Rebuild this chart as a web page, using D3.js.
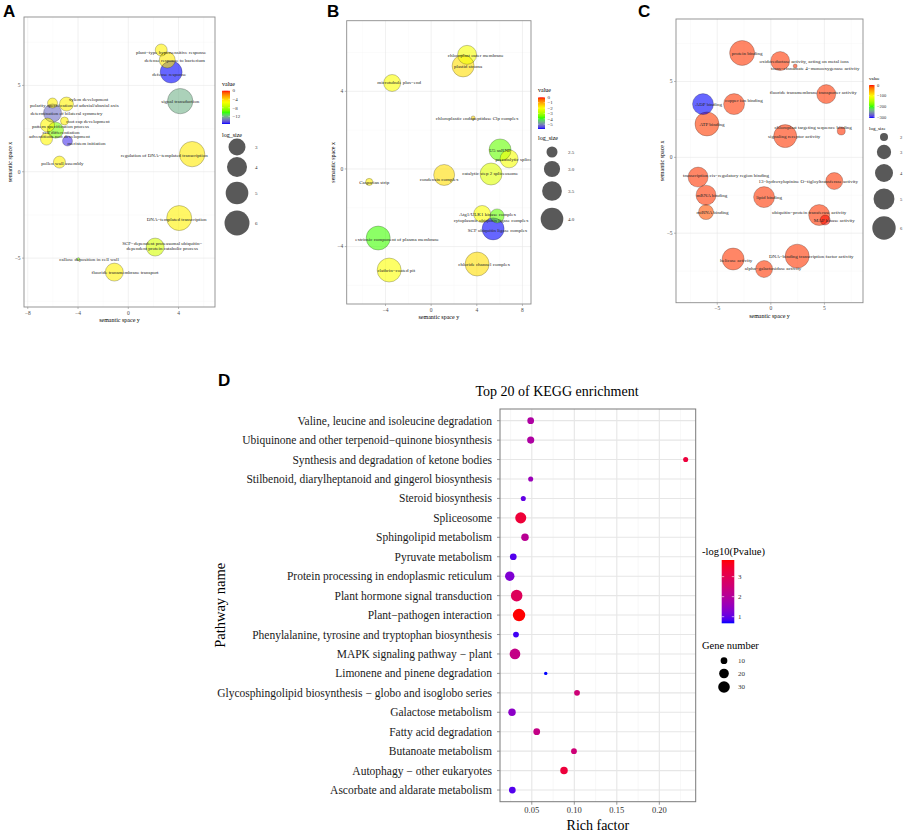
<!DOCTYPE html>
<html>
<head>
<meta charset="utf-8">
<script src="https://cdn.jsdelivr.net/npm/d3@7"></script>
<style>
  body { margin: 0; background: #fff; }
  svg { display: block; }
  text { font-family: "Liberation Serif", "Times New Roman", serif; }
  .letter { font-family: "Liberation Sans", Arial, sans-serif; font-weight: bold; }
</style>
</head>
<body>
<svg id="fig" width="906" height="831"></svg>
<script>
// ===================== DADOS =====================
// REVIGO: [term, semantic x (horizontal), semantic y (vertical), value, log_size, label x, label y]
const bpTerms = [
  ["plant−type hypersensitive response", 2.62, 7.05, -4.8, 1.80, 3.41, 6.93],
  ["defense response to bacterium", 3.10, 6.47, -4.6, 2.72, 3.69, 6.47],
  ["defense response", 3.41, 5.77, -15.6, 4.73, 3.25, 5.66],
  ["signal transduction", 4.13, 4.09, -12.2, 6.21, 4.13, 4.09],
  ["xylem development", -4.92, 3.92, -4.8, 2.22, -3.17, 4.21],
  ["polarity specification of adaxial/abaxial axis", -6.03, 3.98, -4.8, 1.46, -4.29, 3.86],
  ["determination of bilateral symmetry", -6.03, 3.40, -13.8, 3.31, -4.92, 3.40],
  ["root cap development", -5.08, 2.94, -4.8, 1.21, -3.21, 2.94],
  ["pattern specification process", -6.43, 2.70, -5.0, 2.22, -5.40, 2.65],
  ["cell differentiation", -5.79, 2.41, -9.0, 2.72, -5.36, 2.30],
  ["adventitious root development", -6.51, 1.89, -5.0, 1.80, -5.48, 2.07],
  ["meristem initiation", -4.84, 1.78, -15.0, 1.46, -3.33, 1.66],
  ["regulation of DNA−templated transcription", 5.08, 1.02, -4.6, 6.21, 2.86, 0.97],
  ["pollen wall assembly", -5.48, 0.56, -4.8, 1.80, -5.24, 0.50],
  ["DNA−templated transcription", 4.05, -2.68, -4.8, 6.03, 3.85, -2.74],
  ["SCF−dependent proteasomal ubiquitin−|dependent protein catabolic process", 2.14, -4.36, -6.6, 3.31, 2.70, -4.30],
  ["callose deposition in cell wall", -3.97, -5.06, -9.0, 0.95, -3.12, -5.06],
  ["fluoride transmembrane transport", -1.11, -5.81, -4.8, 3.31, -0.26, -5.81]
];

const ccTerms = [
  ["chloroplast outer membrane", 3.15, 5.88, -2.1, 3.39, 3.91, 5.88],
  ["plastid stroma", 2.80, 5.31, -1.6, 3.89, 3.24, 5.31],
  ["microtubule plus−end", -3.42, 4.43, -2.0, 3.10, -2.80, 4.48],
  ["chloroplastic endopeptidase Clp complex", 3.68, 2.63, -1.5, 2.25, 4.03, 2.63],
  ["U5 snRNP", 6.04, 0.98, -3.6, 3.89, 6.04, 0.98],
  ["precatalytic spliceosome", 6.83, 0.52, -2.1, 3.24, 7.79, 0.52],
  ["catalytic step 2 spliceosome", 5.25, -0.26, -2.4, 3.89, 5.17, -0.21],
  ["condensin complex", 1.14, -0.31, -1.6, 3.71, 0.70, -0.52],
  ["Casparian strip", -5.43, -0.67, -1.8, 2.30, -4.99, -0.67],
  ["Atg1/ULK1 kinase complex", 4.47, -2.32, -2.0, 3.10, 4.95, -2.32],
  ["cytoplasmic ubiquitin ligase complex", 5.78, -2.42, -3.6, 2.76, 5.25, -2.63],
  ["SCF ubiquitin ligase complex", 5.43, -3.09, -5.9, 3.89, 5.82, -3.14],
  ["extrinsic component of plasma membrane", -4.64, -3.56, -3.8, 4.27, -2.98, -3.61],
  ["clathrin−coated pit", -3.68, -5.21, -2.0, 4.27, -3.06, -5.21],
  ["chloride channel complex", 4.03, -4.90, -1.6, 4.27, 4.64, -4.90]
];

const mfTerms = [
  ["protein binding", -2.68, 6.88, -7, 6.72, -2.21, 6.88],
  ["oxidoreductase activity, acting on metal ions", 0.87, 6.35, -7, 4.32, 3.11, 6.35],
  ["trans−cinnamate 4−monooxygenase activity", 2.27, 6.02, -6, 1.82, 4.14, 5.89],
  ["fluoride transmembrane transporter activity", 5.17, 4.17, -7, 4.32, 3.95, 4.30],
  ["ADP binding", -6.33, 3.51, -310, 5.03, -5.79, 3.51],
  ["copper ion binding", -3.43, 3.51, -7, 5.03, -2.52, 3.78],
  ["ATP binding", -5.96, 2.20, -9, 6.26, -5.49, 2.20],
  ["chloroplast targeting sequence binding", 6.57, 1.74, -6, 2.00, 3.95, 2.00],
  ["signaling receptor activity", 1.34, 1.40, -7, 5.83, 2.18, 1.40],
  ["transcription cis−regulatory region binding", -6.79, -1.30, -7, 4.66, -4.18, -1.17],
  ["13−hydroxylupinine O−tigloyltransferase activity", 5.92, -1.56, -7, 3.70, 3.49, -1.56],
  ["mRNA binding", -6.05, -2.49, -7, 4.66, -5.51, -2.49],
  ["lipid binding", -0.63, -2.62, -7, 5.03, -0.16, -2.62],
  ["miRNA binding", -6.05, -3.61, -16, 3.16, -5.44, -3.61],
  ["ubiquitin−protein transferase activity", 4.51, -3.80, -7, 5.03, 3.58, -3.61],
  ["MAP kinase activity", 5.07, -4.13, -1, 2.22, 5.92, -4.13],
  ["DNA−binding transcription factor activity", 2.46, -6.51, -7, 6.26, 3.77, -6.51],
  ["helicase activity", -3.52, -6.70, -7, 5.42, -3.24, -6.77],
  ["alpha−galactosidase activity", -0.63, -7.36, -7, 3.70, 0.21, -7.30]
];

// KEGG (de cima para baixo)
const pathways = [
  "Valine, leucine and isoleucine degradation",
  "Ubiquinone and other terpenoid−quinone biosynthesis",
  "Synthesis and degradation of ketone bodies",
  "Stilbenoid, diarylheptanoid and gingerol biosynthesis",
  "Steroid biosynthesis",
  "Spliceosome",
  "Sphingolipid metabolism",
  "Pyruvate metabolism",
  "Protein processing in endoplasmic reticulum",
  "Plant hormone signal transduction",
  "Plant−pathogen interaction",
  "Phenylalanine, tyrosine and tryptophan biosynthesis",
  "MAPK signaling pathway − plant",
  "Limonene and pinene degradation",
  "Glycosphingolipid biosynthesis − globo and isoglobo series",
  "Galactose metabolism",
  "Fatty acid degradation",
  "Butanoate metabolism",
  "Autophagy − other eukaryotes",
  "Ascorbate and aldarate metabolism"
];
const richFactor = [0.0487, 0.0487, 0.231, 0.0487, 0.040, 0.037, 0.042, 0.0282, 0.0241, 0.0322,
                    0.035, 0.0314, 0.0302, 0.0664, 0.1032, 0.0267, 0.0558, 0.0996, 0.0879, 0.0271];
const geneNumber = [10, 11, 7, 7, 7, 27, 12, 10, 19, 30, 35, 8, 25, 6, 8, 12, 10, 8, 12, 10];
const negLogP = [1.9, 1.9, 3.3, 1.6, 1.0, 3.35, 2.1, 0.9, 1.25, 2.9, 3.83, 0.8, 2.3, 0.67, 2.5, 1.4, 2.3, 2.5, 3.3, 0.9];

const richTicks = [0.05, 0.10, 0.15, 0.20];
const pTicks = [1, 2, 3];
const geneBreaks = [10, 20, 30];

const svg = d3.select("#fig");
const MINUS = "\u2212";
const fmtNum = d => String(d).replace("-", MINUS);

// ===================== HELPERS =====================
function sizeScale(vmin, vmax, rmin, rmax) {
  const t = d3.scaleLinear().domain([vmin, vmax]).range([0, 1]).clamp(true);
  const s = d3.scaleSqrt().domain([0, 1]).range([rmin, rmax]);
  return v => s(t(v));
}

function valueColor(min) {
  return d3.scaleLinear()
    .domain([min, min * 2 / 3, min / 3, 0])
    .range(["#0000ff", "#00ff00", "#ffff00", "#ff0000"])
    .interpolate(d3.interpolateLab)
    .clamp(true);
}

function gradient(id, color, domain) {
  const lg = svg.select("defs").append("linearGradient").attr("id", id)
    .attr("x1", 0).attr("x2", 0).attr("y1", 0).attr("y2", 1);
  d3.range(0, 1.0001, 0.05).forEach(t => {
    lg.append("stop").attr("offset", t)
      .attr("stop-color", color(domain[0] + (domain[1] - domain[0]) * t));
  });
}

// ===================== PAINEL REVIGO =====================
function drawRevigo(cfg) {
  const g = svg.append("g");
  const x = d3.scaleLinear().domain(cfg.xDomain).range([cfg.x0, cfg.x1]);
  const y = d3.scaleLinear().domain(cfg.yDomain).range([cfg.y1, cfg.y0]);
  const color = valueColor(cfg.vmin);
  const r = sizeScale(cfg.sMin, cfg.sMax, cfg.rMin, cfg.rMax);

  // grade (major + minor)
  const half = t => t.slice(0, -1).map((d, i) => (d + t[i + 1]) / 2)
    .concat([t[0] - (t[1] - t[0]) / 2, t[t.length - 1] + (t[1] - t[0]) / 2]);
  const minorX = half(cfg.xTicks).filter(d => d > cfg.xDomain[0] && d < cfg.xDomain[1]);
  const minorY = half(cfg.yTicks).filter(d => d > cfg.yDomain[0] && d < cfg.yDomain[1]);

  g.selectAll(".mnx").data(minorX).join("line")
    .attr("x1", d => x(d)).attr("x2", d => x(d)).attr("y1", cfg.y0).attr("y2", cfg.y1)
    .attr("stroke", "#f4f4f4").attr("stroke-width", 0.4);
  g.selectAll(".mny").data(minorY).join("line")
    .attr("y1", d => y(d)).attr("y2", d => y(d)).attr("x1", cfg.x0).attr("x2", cfg.x1)
    .attr("stroke", "#f4f4f4").attr("stroke-width", 0.4);
  g.selectAll(".mjx").data(cfg.xTicks).join("line")
    .attr("x1", d => x(d)).attr("x2", d => x(d)).attr("y1", cfg.y0).attr("y2", cfg.y1)
    .attr("stroke", "#e8e8e8").attr("stroke-width", 0.6);
  g.selectAll(".mjy").data(cfg.yTicks).join("line")
    .attr("y1", d => y(d)).attr("y2", d => y(d)).attr("x1", cfg.x0).attr("x2", cfg.x1)
    .attr("stroke", "#e8e8e8").attr("stroke-width", 0.6);

  // bolhas (maiores primeiro)
  const rows = cfg.data.slice().sort((a, b) => b[4] - a[4]);
  const clipId = "clip" + cfg.letter;
  svg.select("defs").append("clipPath").attr("id", clipId)
    .append("rect").attr("x", cfg.x0).attr("y", cfg.y0)
    .attr("width", cfg.x1 - cfg.x0).attr("height", cfg.y1 - cfg.y0);
  const inner = g.append("g").attr("clip-path", `url(#${clipId})`);

  inner.selectAll("circle.bub").data(rows).join("circle")
    .attr("class", "bub")
    .attr("cx", d => x(d[1])).attr("cy", d => y(d[2]))
    .attr("r", d => r(d[4]))
    .attr("fill", d => color(d[3])).attr("fill-opacity", 0.6);
  inner.selectAll("circle.out").data(rows).join("circle")
    .attr("class", "out")
    .attr("cx", d => x(d[1])).attr("cy", d => y(d[2]))
    .attr("r", d => r(d[4]))
    .attr("fill", "none").attr("stroke", "#000").attr("stroke-opacity", 0.45).attr("stroke-width", 0.5);

  inner.selectAll("text.lab").data(cfg.data).join("text")
    .attr("class", "lab")
    .attr("text-anchor", "middle")
    .attr("font-size", cfg.labelSize)
    .attr("fill", "#262626")
    .each(function (d) {
      const lines = d[0].split("|");
      const t = d3.select(this);
      lines.forEach((ln, i) => {
        t.append("tspan").attr("x", x(d[5]))
          .attr("y", y(d[6]) + (i - (lines.length - 1) / 2) * cfg.labelSize * 1.05)
          .attr("dy", "0.35em").text(ln);
      });
    });

  // moldura e eixos
  g.append("rect").attr("x", cfg.x0).attr("y", cfg.y0)
    .attr("width", cfg.x1 - cfg.x0).attr("height", cfg.y1 - cfg.y0)
    .attr("fill", "none").attr("stroke", "#8c8c8c").attr("stroke-width", 0.9);

  g.selectAll(".tx").data(cfg.xTicks).join("line")
    .attr("x1", d => x(d)).attr("x2", d => x(d)).attr("y1", cfg.y1).attr("y2", cfg.y1 + 2)
    .attr("stroke", "#8c8c8c").attr("stroke-width", 0.6);
  g.selectAll(".txl").data(cfg.xTicks).join("text")
    .attr("x", d => x(d)).attr("y", cfg.y1 + 7.5)
    .attr("text-anchor", "middle").attr("font-size", 5.5).attr("fill", "#4d4d4d")
    .text(fmtNum);
  g.selectAll(".ty").data(cfg.yTicks).join("line")
    .attr("y1", d => y(d)).attr("y2", d => y(d)).attr("x1", cfg.x0 - 2).attr("x2", cfg.x0)
    .attr("stroke", "#8c8c8c").attr("stroke-width", 0.6);
  g.selectAll(".tyl").data(cfg.yTicks).join("text")
    .attr("x", cfg.x0 - 3.5).attr("y", d => y(d)).attr("dy", "0.35em")
    .attr("text-anchor", "end").attr("font-size", 5.5).attr("fill", "#4d4d4d")
    .text(fmtNum);

  g.append("text").attr("x", (cfg.x0 + cfg.x1) / 2).attr("y", cfg.y1 + 15)
    .attr("text-anchor", "middle").attr("font-size", 6).text("semantic space y");
  g.append("text")
    .attr("transform", `translate(${cfg.x0 - 12},${(cfg.y0 + cfg.y1) / 2}) rotate(-90)`)
    .attr("text-anchor", "middle").attr("font-size", 6).text("semantic space x");

  svg.append("text").attr("class", "letter")
    .attr("x", cfg.letterX).attr("y", 17).attr("font-size", 17).text(cfg.letter);

  // legenda de cor
  const L = cfg.legend;
  gradient("grad" + cfg.letter, color, [0, cfg.vmin]);
  g.append("text").attr("x", L.x).attr("y", L.barY0 - 5).attr("font-size", L.font).text("value");
  g.append("rect").attr("x", L.x).attr("y", L.barY0).attr("width", L.barW)
    .attr("height", L.barY1 - L.barY0).attr("fill", `url(#grad${cfg.letter})`);
  const by = d3.scaleLinear().domain([0, cfg.vmin]).range([L.barY0, L.barY1]);
  g.selectAll(".cbt").data(cfg.valueTicks).join("line")
    .attr("x1", L.x).attr("x2", L.x + L.barW * 0.2).attr("y1", d => by(d)).attr("y2", d => by(d))
    .attr("stroke", "#fff").attr("stroke-width", 0.4);
  g.selectAll(".cbt2").data(cfg.valueTicks).join("line")
    .attr("x1", L.x + L.barW * 0.8).attr("x2", L.x + L.barW).attr("y1", d => by(d)).attr("y2", d => by(d))
    .attr("stroke", "#fff").attr("stroke-width", 0.4);
  g.selectAll(".cbl").data(cfg.valueTicks).join("text")
    .attr("x", L.x + L.barW + 2.5).attr("y", d => by(d)).attr("dy", "0.35em")
    .attr("font-size", L.tickFont).attr("fill", "#333").text(fmtNum);

  // legenda de tamanho
  g.append("text").attr("x", L.x).attr("y", L.sizeTitleY).attr("font-size", L.font).text("log_size");
  g.selectAll(".sz").data(cfg.sizeBreaks).join("circle")
    .attr("cx", L.sizeX).attr("cy", (d, i) => L.sizeYs[i]).attr("r", d => r(d))
    .attr("fill", "#000").attr("fill-opacity", 0.65);
  g.selectAll(".szl").data(cfg.sizeBreaks).join("text")
    .attr("x", L.sizeLabelX).attr("y", (d, i) => L.sizeYs[i]).attr("dy", "0.35em")
    .attr("font-size", L.tickFont).attr("fill", "#333").text(d => d.toFixed(cfg.sizeDigits));
}

svg.append("defs");

drawRevigo({
  letter: "A", letterX: 3, data: bpTerms,
  x0: 24, x1: 215, y0: 17, y1: 307,
  xDomain: [-8.3, 6.9], yDomain: [-7.83, 8.96],
  xTicks: [-8, -4, 0, 4], yTicks: [-5, 0, 5],
  vmin: -15.6, valueTicks: [0, -4, -8, -12],
  sMin: 0.95, sMax: 6.21, rMin: 1.5, rMax: 12.7,
  sizeBreaks: [3, 4, 5, 6], sizeDigits: 0, labelSize: 5,
  legend: { x: 222, barW: 8, barY0: 90.7, barY1: 124, font: 6, tickFont: 5,
            sizeTitleY: 137, sizeX: 237, sizeLabelX: 255, sizeYs: [147, 167, 193, 223] }
});

drawRevigo({
  letter: "B", letterX: 327, data: ccTerms,
  x0: 346.7, x1: 531, y0: 20.7, y1: 304,
  xDomain: [-7.4, 8.75], yDomain: [-6.96, 7.64],
  xTicks: [-4, 0, 4, 8], yTicks: [-4, 0, 4],
  vmin: -5.9, valueTicks: [0, -1, -2, -3, -4, -5],
  sMin: 2.25, sMax: 4.27, rMin: 2, rMax: 12,
  sizeBreaks: [2.5, 3.0, 3.5, 4.0], sizeDigits: 1, labelSize: 5,
  legend: { x: 538, barW: 7, barY0: 97.3, barY1: 129, font: 6, tickFont: 5,
            sizeTitleY: 140, sizeX: 552, sizeLabelX: 568, sizeYs: [152, 169, 191, 219] }
});

drawRevigo({
  letter: "C", letterX: 638, data: mfTerms,
  x0: 676, x1: 863, y0: 19, y1: 302.7,
  xDomain: [-8.85, 8.6], yDomain: [-9.58, 9.12],
  xTicks: [-5, 0, 5], yTicks: [-5, 0, 5],
  vmin: -310, valueTicks: [0, -100, -200, -300],
  sMin: 1.82, sMax: 6.72, rMin: 2, rMax: 12.5,
  sizeBreaks: [2, 3, 4, 5, 6], sizeDigits: 0, labelSize: 5,
  legend: { x: 869, barW: 5.5, barY0: 85, barY1: 118, font: 5, tickFont: 4.5,
            sizeTitleY: 130, sizeX: 884, sizeLabelX: 900, sizeYs: [137, 152, 173, 199, 228] }
});

// ===================== PAINEL D: KEGG =====================
const D = { x0: 500, x1: 695.7, y0: 409, y1: 801.7 };
const gd = svg.append("g");
const xD = d3.scaleLinear().domain([0.0126, 0.2428]).range([D.x0, D.x1]);
const yD = d3.scalePoint().domain(pathways).range([D.y0, D.y1]).padding(0.6);
const colD = d3.scaleLinear().domain([0.67, 3.83]).range(["#0000ff", "#ff0000"]).interpolate(d3.interpolateLab);
const rD = sizeScale(6, 35, 1.7, 6.2);

const minorD = [0.025, 0.075, 0.125, 0.175, 0.225];
gd.selectAll(".dmn").data(minorD).join("line")
  .attr("x1", d => xD(d)).attr("x2", d => xD(d)).attr("y1", D.y0).attr("y2", D.y1)
  .attr("stroke", "#f3f3f3").attr("stroke-width", 0.7);
gd.selectAll(".dmx").data(richTicks).join("line")
  .attr("x1", d => xD(d)).attr("x2", d => xD(d)).attr("y1", D.y0).attr("y2", D.y1)
  .attr("stroke", "#e6e6e6").attr("stroke-width", 1.1);
gd.selectAll(".dmy").data(pathways).join("line")
  .attr("y1", d => yD(d)).attr("y2", d => yD(d)).attr("x1", D.x0).attr("x2", D.x1)
  .attr("stroke", "#e6e6e6").attr("stroke-width", 1.1);

const kegg = pathways.map((p, i) => ({ p, rf: richFactor[i], n: geneNumber[i], lp: negLogP[i] }));
gd.selectAll("circle.kp").data(kegg).join("circle")
  .attr("class", "kp")
  .attr("cx", d => xD(d.rf)).attr("cy", d => yD(d.p))
  .attr("r", d => rD(d.n)).attr("fill", d => colD(d.lp));

gd.append("rect").attr("x", D.x0).attr("y", D.y0)
  .attr("width", D.x1 - D.x0).attr("height", D.y1 - D.y0)
  .attr("fill", "none").attr("stroke", "#7a7a7a").attr("stroke-width", 1);

gd.selectAll(".dty").data(pathways).join("line")
  .attr("x1", D.x0 - 3).attr("x2", D.x0).attr("y1", d => yD(d)).attr("y2", d => yD(d))
  .attr("stroke", "#7a7a7a").attr("stroke-width", 0.8);
gd.selectAll(".dtyl").data(pathways).join("text")
  .attr("x", D.x0 - 8).attr("y", d => yD(d)).attr("dy", "0.35em")
  .attr("text-anchor", "end").attr("font-size", 11.5).attr("fill", "#1a1a1a").text(d => d);
gd.selectAll(".dtx").data(richTicks).join("line")
  .attr("x1", d => xD(d)).attr("x2", d => xD(d)).attr("y1", D.y1).attr("y2", D.y1 + 3)
  .attr("stroke", "#7a7a7a").attr("stroke-width", 0.8);
gd.selectAll(".dtxl").data(richTicks).join("text")
  .attr("x", d => xD(d)).attr("y", D.y1 + 11)
  .attr("text-anchor", "middle").attr("font-size", 8.5).attr("fill", "#333")
  .text(d3.format(".2f"));

gd.append("text").attr("x", (D.x0 + D.x1) / 2).attr("y", 829.5)
  .attr("text-anchor", "middle").attr("font-size", 14).text("Rich factor");
gd.append("text").attr("transform", `translate(225,${(D.y0 + D.y1) / 2}) rotate(-90)`)
  .attr("text-anchor", "middle").attr("font-size", 14.5).text("Pathway name");
gd.append("text").attr("x", 557).attr("y", 396)
  .attr("text-anchor", "middle").attr("font-size", 14).text("Top 20 of KEGG enrichment");
svg.append("text").attr("class", "letter").attr("x", 218).attr("y", 386)
  .attr("font-size", 17).text("D");

// legenda D
gradient("gradD", colD, [3.83, 0.67]);
const bar = { x: 721.7, w: 12.6, y0: 560, y1: 623.3 };
const pY = d3.scaleLinear().domain([3.83, 0.67]).range([bar.y0, bar.y1]);
gd.append("text").attr("x", 702).attr("y", 555).attr("font-size", 10.5).text("-log10(Pvalue)");
gd.append("rect").attr("x", bar.x).attr("y", bar.y0).attr("width", bar.w)
  .attr("height", bar.y1 - bar.y0).attr("fill", "url(#gradD)");
gd.selectAll(".pt1").data(pTicks).join("line")
  .attr("x1", bar.x).attr("x2", bar.x + 2.5).attr("y1", d => pY(d)).attr("y2", d => pY(d))
  .attr("stroke", "#fff").attr("stroke-width", 0.6);
gd.selectAll(".pt2").data(pTicks).join("line")
  .attr("x1", bar.x + bar.w - 2.5).attr("x2", bar.x + bar.w).attr("y1", d => pY(d)).attr("y2", d => pY(d))
  .attr("stroke", "#fff").attr("stroke-width", 0.6);
gd.selectAll(".ptl").data(pTicks).join("text")
  .attr("x", 738).attr("y", d => pY(d)).attr("dy", "0.35em")
  .attr("font-size", 7).attr("fill", "#333").text(d => d);

gd.append("text").attr("x", 702).attr("y", 649).attr("font-size", 10.5).text("Gene number");
const gY = [660.7, 673.5, 687];
gd.selectAll(".gl").data(geneBreaks).join("circle")
  .attr("cx", 724).attr("cy", (d, i) => gY[i]).attr("r", d => rD(d)).attr("fill", "#000");
gd.selectAll(".glt").data(geneBreaks).join("text")
  .attr("x", 738).attr("y", (d, i) => gY[i]).attr("dy", "0.35em")
  .attr("font-size", 7).attr("fill", "#333").text(d => d);
</script>
</body>
</html>
